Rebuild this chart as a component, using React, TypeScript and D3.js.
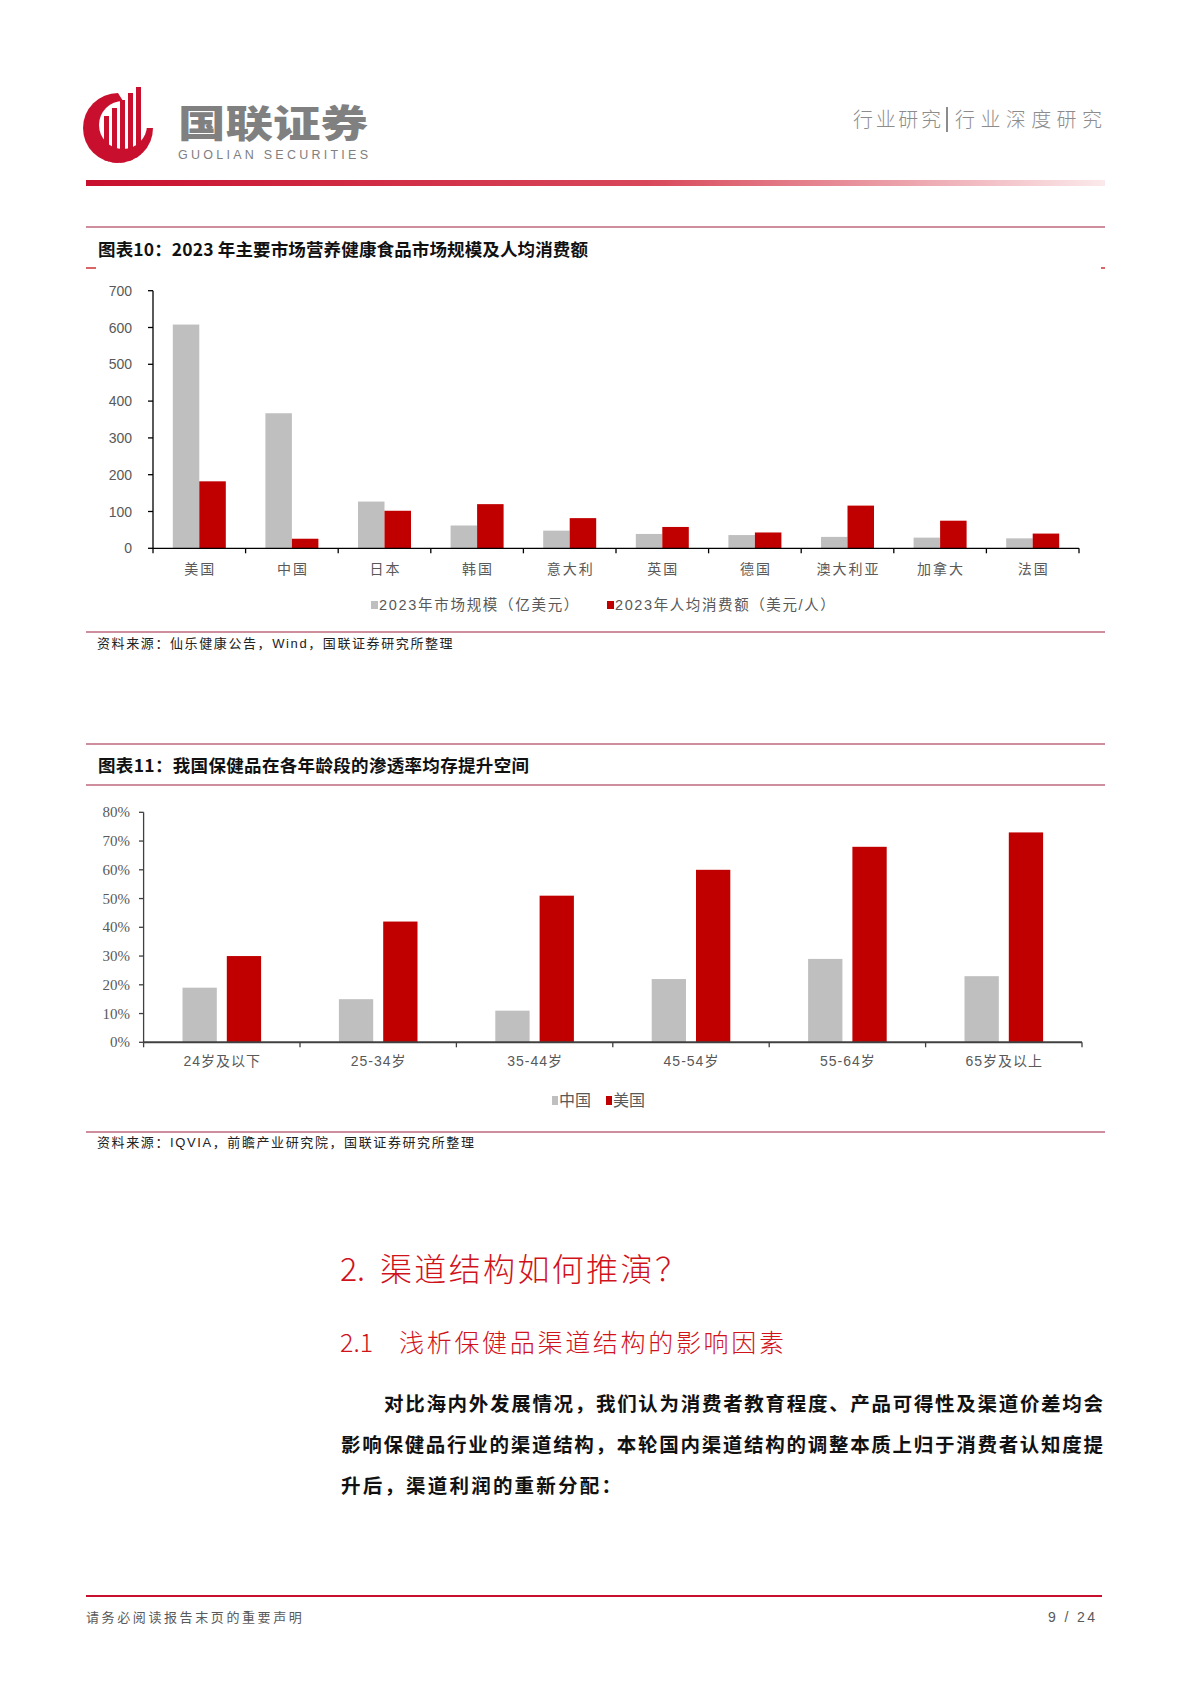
import React from 'react';
import * as d3 from 'd3';

// ---------------------------------------------------------------------------
// Data
// ---------------------------------------------------------------------------

const countries = ['美国', '中国', '日本', '韩国', '意大利', '英国', '德国', '澳大利亚', '加拿大', '法国'];
const marketSize = [608, 367, 127, 62, 48, 39, 36, 31, 29, 27]; // 亿美元
const perCapita = [182, 26, 102, 120, 82, 58, 43, 116, 75, 40]; // 美元/人
const yTicks1 = [0, 100, 200, 300, 400, 500, 600, 700];
const legend1 = ['2023年市场规模（亿美元）', '2023年人均消费额（美元/人）'];

const ageGroups = ['24岁及以下', '25-34岁', '35-44岁', '45-54岁', '55-64岁', '65岁及以上'];
const chinaRate = [0.19, 0.15, 0.11, 0.22, 0.29, 0.23];
const usRate = [0.30, 0.42, 0.51, 0.60, 0.68, 0.73];
const yTicks2 = [0, 0.1, 0.2, 0.3, 0.4, 0.5, 0.6, 0.7, 0.8];
const legend2 = ['中国', '美国'];

// ---------------------------------------------------------------------------
// Style
// ---------------------------------------------------------------------------

const GRAY = '#bfbfbf';
const RED = '#c00000';
const LINE = '#9e1f3e';
const LABEL = '#595959';
const CJK = "'Noto Sans CJK SC', sans-serif";
const SANS = "'Liberation Sans', 'Noto Sans CJK SC', sans-serif";
const NARROW = "'Liberation Sans Narrow', 'Liberation Sans', 'Noto Sans CJK SC', sans-serif";
const SERIF = "'Liberation Serif', serif";

function Header() {
  const bars = [
    { x: 104, top: 116 },
    { x: 112, top: 108 },
    { x: 120, top: 100 },
    { x: 128, top: 93 },
    { x: 136, top: 87 },
  ];
  return (
    <g>
      <defs>
        <clipPath id="logoClip">
          <circle cx={118} cy={128} r={35} />
          <rect x={100} y={80} width={50} height={60} />
        </clipPath>
        <linearGradient id="topLine" x1="0" x2="1" y1="0" y2="0">
          <stop offset="0" stopColor="#c8102e" />
          <stop offset="0.55" stopColor="#d8485a" />
          <stop offset="1" stopColor="#fbe9eb" />
        </linearGradient>
      </defs>
      {/* logo */}
      <circle cx={118} cy={128} r={35} fill="#c8102e" />
      <circle cx={123} cy={125} r={24} fill="#fff" />
      <path d="M118,93 L160,93 L160,128 L140,128 Z" fill="#fff" />
      <g clipPath="url(#logoClip)">
        {bars.map((b) => (
          <rect key={b.x} x={b.x} y={b.top} width={5} height={170 - b.top} fill="#c8102e" />
        ))}
      </g>
      <text x={178} y={137} fontFamily={CJK} fontWeight={900} fontSize={38} fill="#808080"
        textLength={190} lengthAdjust="spacingAndGlyphs">国联证券</text>
      <text x={178} y={159} fontFamily={SANS} fontSize={12.5} fill="#808080"
        textLength={190} lengthAdjust="spacing">GUOLIAN SECURITIES</text>
      <text x={853} y={127} fontFamily={CJK} fontWeight={300} fontSize={20} fill="#8c8c8c"
        textLength={88} lengthAdjust="spacing">行业研究</text>
      <line x1={947} x2={947} y1={107} y2={132} stroke="#8c8c8c" strokeWidth={2} />
      <text x={955} y={127} fontFamily={CJK} fontWeight={300} fontSize={20} fill="#8c8c8c"
        textLength={147} lengthAdjust="spacing">行业深度研究</text>
      <rect x={86} y={180} width={1019} height={6} fill="url(#topLine)" />
    </g>
  );
}

function Chart1() {
  const x = d3.scaleBand<string>().domain(countries).range([153, 1079]);
  const bw = x.bandwidth();
  const inner = d3.scaleBand<string>().domain(['a', 'b']).range([(bw - 53) / 2, (bw + 53) / 2]);
  const y = d3.scaleLinear().domain([0, 700]).range([548.3, 290.7]);
  const bounds = [...countries.map((c) => x(c) as number), x.range()[1]];

  return (
    <g>
      <line x1={86} x2={1105} y1={227} y2={227} stroke={LINE} strokeWidth={1.2} />
      <text x={98} y={248} dominantBaseline="central" fontFamily={CJK} fontWeight={700} fontSize={17.5}
        fill="#111" textLength={490} lengthAdjust="spacing">图表10：2023 年主要市场营养健康食品市场规模及人均消费额</text>
      <line x1={86} x2={96} y1={268} y2={268} stroke={RED} strokeWidth={1.2} />
      <line x1={1101} x2={1105} y1={268} y2={268} stroke={RED} strokeWidth={1.2} />

      {countries.map((c, i) => (
        <g key={c} transform={`translate(${x(c)},0)`}>
          <rect x={inner('a')} y={y(marketSize[i])} width={inner.bandwidth()}
            height={y(0) - y(marketSize[i])} fill={GRAY} />
          <rect x={inner('b')} y={y(perCapita[i])} width={inner.bandwidth()}
            height={y(0) - y(perCapita[i])} fill={RED} />
          <text x={bw / 2 + 1} y={568} textAnchor="middle" dominantBaseline="central"
            fontFamily={CJK} fontSize={14} letterSpacing={2} fill={LABEL}>{c}</text>
        </g>
      ))}

      {/* axes */}
      <line x1={153} x2={153} y1={y(700)} y2={y(0)} stroke="#000" strokeWidth={1.3} />
      {yTicks1.map((t) => (
        <g key={t}>
          <line x1={148} x2={153} y1={y(t)} y2={y(t)} stroke="#000" strokeWidth={1.3} />
          <text x={132} y={y(t)} textAnchor="end" dominantBaseline="central" fontFamily={SANS}
            fontSize={14} fill={LABEL}>{t}</text>
        </g>
      ))}
      <line x1={153} x2={1079} y1={y(0)} y2={y(0)} stroke="#000" strokeWidth={1.3} />
      {bounds.map((b) => (
        <line key={b} x1={b} x2={b} y1={y(0)} y2={y(0) + 5} stroke="#000" strokeWidth={1.3} />
      ))}

      {/* legend */}
      <rect x={371} y={601} width={7} height={8} fill={GRAY} />
      <text x={379} y={605} dominantBaseline="central" fontFamily={NARROW} fontSize={14.5}
        letterSpacing={1.7} fill={LABEL}>{legend1[0]}</text>
      <rect x={607} y={601} width={7} height={8} fill={RED} />
      <text x={615} y={605} dominantBaseline="central" fontFamily={NARROW} fontSize={14.5}
        letterSpacing={1.6} fill={LABEL}>{legend1[1]}</text>

      <line x1={86} x2={1105} y1={632} y2={632} stroke={LINE} strokeWidth={1.2} />
      <text x={97} y={643} dominantBaseline="central" fontFamily={NARROW} fontSize={13}
        letterSpacing={1.6} fill="#222">资料来源：仙乐健康公告，Wind，国联证券研究所整理</text>
    </g>
  );
}

function Chart2() {
  const x = d3.scaleBand<string>().domain(ageGroups).range([143.6, 1082]);
  const bw = x.bandwidth();
  const barW = 34.3;
  const gap = 10;
  const y = d3.scaleLinear().domain([0, 0.8]).range([1042.3, 812.3]);
  const bounds = [...ageGroups.map((a) => x(a) as number), x.range()[1]];
  const pct = d3.format('.0%');
  const left = bw / 2 - gap / 2 - barW;

  return (
    <g>
      <line x1={86} x2={1105} y1={744} y2={744} stroke={LINE} strokeWidth={1.2} />
      <text x={98} y={764} dominantBaseline="central" fontFamily={CJK} fontWeight={700} fontSize={17.5}
        fill="#111" textLength={431} lengthAdjust="spacing">图表11：我国保健品在各年龄段的渗透率均存提升空间</text>
      <line x1={86} x2={1105} y1={785} y2={785} stroke={LINE} strokeWidth={1.2} />

      {ageGroups.map((a, i) => (
        <g key={a} transform={`translate(${x(a)},0)`}>
          <rect x={left} y={y(chinaRate[i])} width={barW} height={y(0) - y(chinaRate[i])} fill={GRAY} />
          <rect x={left + barW + gap} y={y(usRate[i])} width={barW}
            height={y(0) - y(usRate[i])} fill={RED} />
          <text x={bw / 2 + 0.5} y={1061} textAnchor="middle" dominantBaseline="central"
            fontFamily={SANS} fontSize={14} letterSpacing={1} fill={LABEL}>{a}</text>
        </g>
      ))}

      <line x1={143.6} x2={143.6} y1={y(0.8)} y2={y(0)} stroke="#404040" strokeWidth={1.3} />
      {yTicks2.map((t) => (
        <g key={t}>
          <line x1={139} x2={143.6} y1={y(t)} y2={y(t)} stroke="#404040" strokeWidth={1.3} />
          <text x={130} y={y(t)} textAnchor="end" dominantBaseline="central" fontFamily={SERIF}
            fontSize={15} fill={LABEL}>{pct(t)}</text>
        </g>
      ))}
      <line x1={143.6} x2={1082} y1={y(0)} y2={y(0)} stroke="#404040" strokeWidth={2} />
      {bounds.map((b) => (
        <line key={b} x1={b} x2={b} y1={y(0)} y2={y(0) + 5} stroke="#404040" strokeWidth={1.3} />
      ))}

      <rect x={552} y={1096} width={6} height={9} fill={GRAY} />
      <text x={559} y={1100.5} dominantBaseline="central" fontFamily={NARROW} fontSize={16}
        fill={LABEL}>{legend2[0]}</text>
      <rect x={606} y={1096} width={6} height={9} fill={RED} />
      <text x={613} y={1100.5} dominantBaseline="central" fontFamily={NARROW} fontSize={16}
        fill={LABEL}>{legend2[1]}</text>

      <line x1={86} x2={1105} y1={1132} y2={1132} stroke={LINE} strokeWidth={1.2} />
      <text x={97} y={1142} dominantBaseline="central" fontFamily={NARROW} fontSize={13}
        letterSpacing={1.6} fill="#222">资料来源：IQVIA，前瞻产业研究院，国联证券研究所整理</text>
    </g>
  );
}

function Body() {
  return (
    <g>
      <text x={340} y={1267} dominantBaseline="central" fontFamily={CJK} fontWeight={300} fontSize={32}
        fill="#d0121b">2.</text>
      <text x={380} y={1267} dominantBaseline="central" fontFamily={CJK} fontWeight={300} fontSize={32}
        fill="#d0121b" textLength={307} lengthAdjust="spacing">渠道结构如何推演？</text>
      <text x={340} y={1341} dominantBaseline="central" fontFamily={CJK} fontWeight={300} fontSize={25}
        fill="#d0121b">2.1</text>
      <text x={399} y={1341} dominantBaseline="central" fontFamily={CJK} fontWeight={300} fontSize={25}
        fill="#d0121b" textLength={385} lengthAdjust="spacing">浅析保健品渠道结构的影响因素</text>
      <text x={384} y={1402} dominantBaseline="central" fontFamily={CJK} fontWeight={700} fontSize={19.5}
        fill="#111" textLength={719} lengthAdjust="spacing">
        对比海内外发展情况，我们认为消费者教育程度、产品可得性及渠道价差均会</text>
      <text x={341} y={1443} dominantBaseline="central" fontFamily={CJK} fontWeight={700} fontSize={19.5}
        fill="#111" textLength={762} lengthAdjust="spacing">
        影响保健品行业的渠道结构，本轮国内渠道结构的调整本质上归于消费者认知度提</text>
      <text x={341} y={1484} dominantBaseline="central" fontFamily={CJK} fontWeight={700} fontSize={19.5}
        fill="#111" letterSpacing={2.2}>升后，渠道利润的重新分配：</text>

      <line x1={86} x2={1102} y1={1596} y2={1596} stroke="#c8102e" strokeWidth={2} />
      <text x={86} y={1617} dominantBaseline="central" fontFamily={NARROW} fontSize={13}
        letterSpacing={2.6} fill={LABEL}>请务必阅读报告末页的重要声明</text>
      <text x={1048} y={1617} dominantBaseline="central" fontFamily={NARROW}
        fontSize={14} fill={LABEL} textLength={47} lengthAdjust="spacing">9 / 24</text>
    </g>
  );
}

export default function App() {
  return (
    <div style={{ position: 'absolute', left: 0, top: 0, background: '#fff' }}>
      <svg width={1190} height={1683} style={{ display: 'block' }}>
        <rect width={1190} height={1683} fill="#fff" />
        <Header />
        <Chart1 />
        <Chart2 />
        <Body />
      </svg>
    </div>
  );
}
